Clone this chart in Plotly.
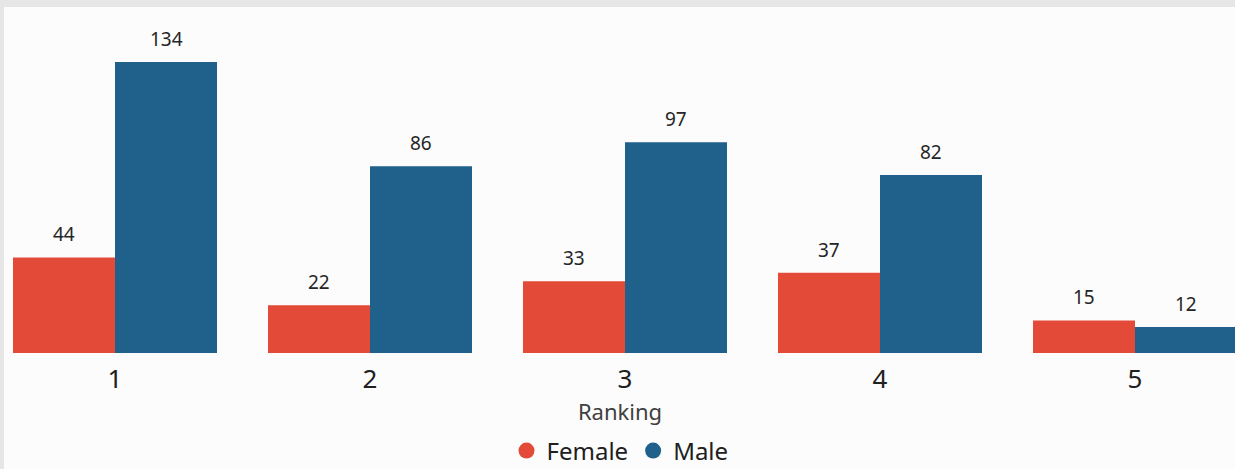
import plotly.graph_objects as go

categories = ["1", "2", "3", "4", "5"]
female = [44, 22, 33, 37, 15]
male = [134, 86, 97, 82, 12]
series_names = ["Female", "Male"]
colors = ["#e34b38", "#1f618b"]

W, H = 1235, 469
L, R, T, B = 5, 0, 20, 116
pw, ph = W - L - R, H - T - B
FONT = "Noto Sans, Open Sans, sans-serif"


def px_x(px):
    return (px - L) / pw


def px_y(py):
    return (H - B - py) / ph


fig = go.Figure()
for name, vals, col in zip(series_names, [female, male], colors):
    fig.add_trace(go.Bar(x=categories, y=vals, name=name, marker_color=col,
                         marker_line_width=0, showlegend=False, hoverinfo="skip"))
    fig.add_trace(go.Scatter(x=[None], y=[None], mode="markers", name=name,
                             marker=dict(color=col, size=20, symbol="circle")))

annotations = []
for vals, shift in [(female, -51), (male, 51)]:
    for i, v in enumerate(vals):
        annotations.append(dict(x=i, y=v, xref="x", yref="y", text=str(v),
                                showarrow=False, xshift=shift, yshift=23,
                                yanchor="middle",
                                font=dict(family=FONT, size=19, color="#252525")))

fig.update_layout(
    width=W, height=H,
    margin=dict(l=L, r=R, t=T, b=B, autoexpand=False),
    paper_bgcolor="#e6e6e6",
    plot_bgcolor="rgba(0,0,0,0)",
    barmode="group", bargap=0.2, bargroupgap=0,
    font=dict(family=FONT, color="#252525"),
    xaxis=dict(type="category", categoryorder="array", categoryarray=categories,
               range=[(L - 115) / 255, (W - 115) / 255], showgrid=False,
               zeroline=False, showline=False, ticks="", ticklabelstandoff=8,
               automargin=False,
               tickfont=dict(size=26, color="#202020"),
               title=dict(text="Ranking", font=dict(size=22, color="#404040"), standoff=6)),
    yaxis=dict(range=[0, ph / (291 / 134)], visible=False, automargin=False),
    legend=dict(orientation="h", x=0.5, xanchor="center", y=px_y(451), yanchor="middle",
                font=dict(size=24, color="#202020"), itemwidth=30,
                bgcolor="rgba(0,0,0,0)", tracegroupgap=0),
    annotations=annotations,
    shapes=[dict(type="rect", xref="paper", yref="paper", layer="below",
                 x0=px_x(4), x1=px_x(W + 5), y0=px_y(7), y1=px_y(H + 5),
                 fillcolor="#fcfcfc", line_width=0)],
)

fig.write_html("out.html", config={"displayModeBar": False},
               post_script="document.body.style.margin='0';document.body.style.overflow='hidden';")
